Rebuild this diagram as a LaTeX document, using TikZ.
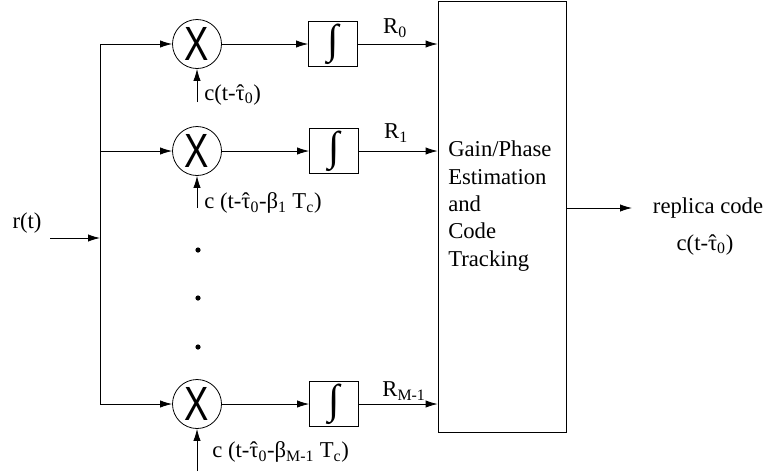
\documentclass[tikz,border=0pt]{standalone}
\usepackage{fontspec}
\setmainfont{Liberation Serif}
\newfontfamily\xfont{Liberation Sans}
\usetikzlibrary{arrows.meta}
\tikzset{
  lbl/.style={font=\fontsize{17pt}{20.5pt}\selectfont, inner sep=0pt},
  mult/.style={draw, circle, minimum size=36.75pt, inner sep=0pt, line width=0.6pt},
  integ/.style={draw, minimum width=36.75pt, minimum height=33.75pt, inner sep=0pt, line width=0.6pt},
  wire/.style={line width=0.6pt},
  arr/.style={wire, -{Latex[length=9pt,width=5.5pt]}},
}
\newcommand{\xmark}{{\xfont\fontsize{36pt}{36pt}\selectfont\scalebox{0.76}[1]{X}}}
\newcommand{\intmark}{{\fontsize{31pt}{31pt}\selectfont\raisebox{0.06em}{∫}}}
\newcommand{\tauhat}{\ooalign{τ\cr\hidewidth ˆ\hidewidth\cr}}
\begin{document}
\begin{tikzpicture}[x=0.75pt,y=-0.75pt]
\useasboundingbox (0,0) rectangle (766,472);
% big box
\node[draw, line width=0.6pt, minimum width=96pt, minimum height=323.25pt, inner sep=0pt] (est) at (502,216.5) {};
\node[lbl, align=left, anchor=west] (esttext) at (448,206) {Gain/Phase\\Estimation\\and\\Code\\Tracking};
% multipliers
\node[mult] (m0) at (197,44) {\xmark};
\node[mult] (m1) at (197,151) {\xmark};
\node[mult] (m2) at (197,404) {\xmark};
% integrators
\node[integ] (i0) at (333,44) {\intmark};
\node[integ] (i1) at (334,151) {\intmark};
\node[integ] (i2) at (334,404) {\intmark};
% bus
\coordinate (b0) at (100,44);
\coordinate (b1) at (100,151);
\coordinate (b2) at (100,404);
\coordinate (rin) at (100,238);
\coordinate (rstart) at (50,238);
\draw[wire] (b0) -- (b2);
\draw[arr] (rstart) -- (rin);
\node[lbl] (rlab) at (27,223) {r(t)};
\draw[arr] (b0) -- (m0.west);
\draw[arr] (b1) -- (m1.west);
\draw[arr] (b2) -- (m2.west);
% multiplier to integrator
\draw[arr] (m0.east) -- (i0.west);
\draw[arr] (m1.east) -- (i1.west);
\draw[arr] (m2.east) -- (i2.west);
% integrator to estimator
\draw[arr] (i0.east) -- (est.west |- i0.east);
\draw[arr] (i1.east) -- (est.west |- i1.east);
\draw[arr] (i2.east) -- (est.west |- i2.east);
\node[lbl] (r0) at (395,28) {R\textsubscript{0}};
\node[lbl] (r1) at (396,133) {R\textsubscript{1}};
\node[lbl] (r2) at (404,391) {R\textsubscript{M-1}};
% code inputs
\coordinate (c0) at (197,102);
\coordinate (c1) at (197,208);
\coordinate (c2) at (197,471);
\draw[arr] (c0) -- (m0.south);
\draw[arr] (c1) -- (m1.south);
\draw[arr] (c2) -- (m2.south);
\node[lbl, anchor=west] (cl0) at (204,95) {c(t-\tauhat\textsubscript{0})};
\node[lbl, anchor=west] (cl1) at (204,203) {c (t-\tauhat\textsubscript{0}-β\textsubscript{1} T\textsubscript{c})};
\node[lbl, anchor=west] (cl2) at (212,452) {c (t-\tauhat\textsubscript{0}-β\textsubscript{M-1} T\textsubscript{c})};
% dots
\fill (198,250) circle (2.6);
\fill (198,298) circle (2.6);
\fill (198,347) circle (2.6);
% output
\coordinate (out) at (632,208);
\draw[arr] (est.east |- out) -- (out);
\node[lbl] (rep1) at (708,208) {replica code};
\node[lbl] (rep2) at (705,245) {c(t-\tauhat\textsubscript{0})};
\end{tikzpicture}
\end{document}
